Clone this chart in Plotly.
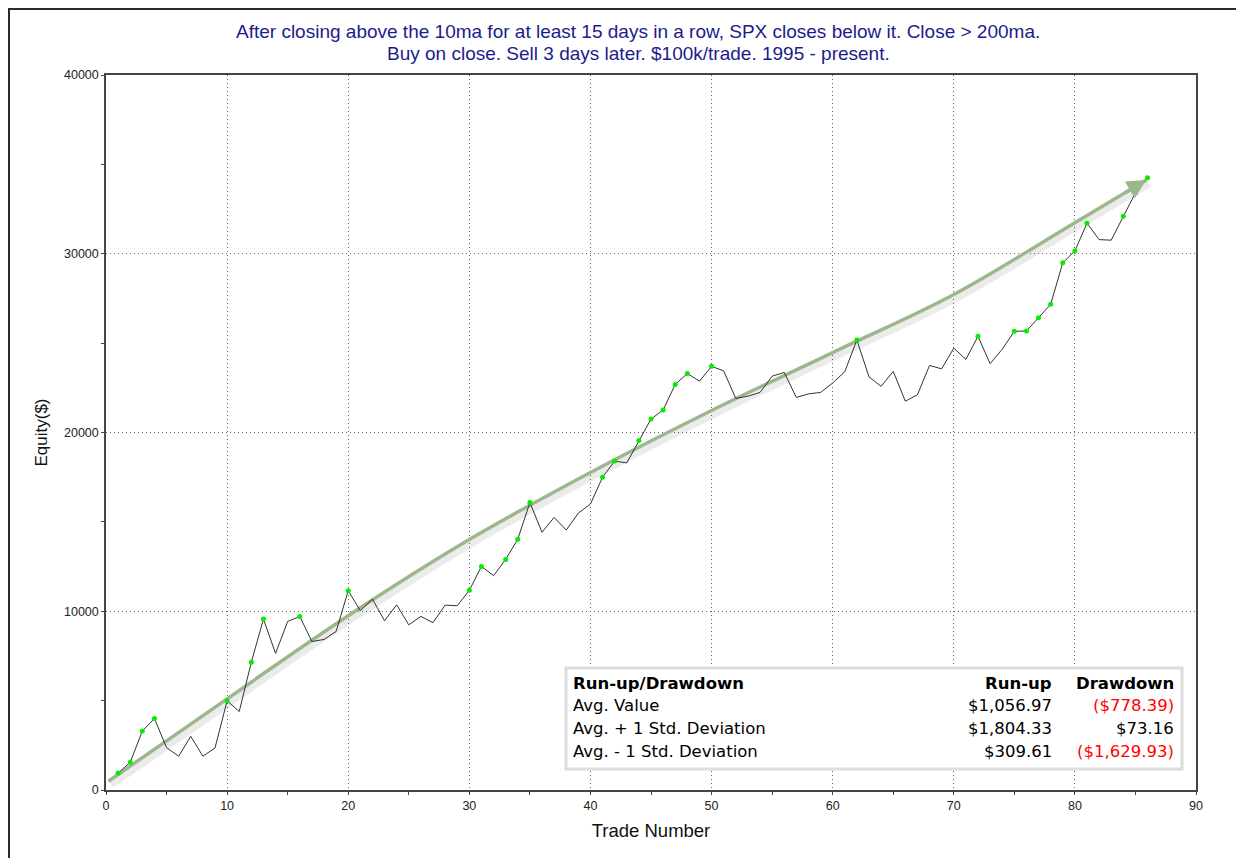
import plotly.graph_objects as go

# ---------------- data ----------------
trade_numbers = list(range(1, 87))
equity = [950, 1550, 3300, 4000, 2370, 1890, 3000, 1890, 2350, 4990,
          4390, 7150, 9560, 7640, 9430, 9710, 8310, 8420, 8870, 11150,
          10030, 10680, 9470, 10360, 9240, 9710, 9360, 10340, 10310, 11170,
          12510, 11990, 12900, 14030, 16080, 14420, 15250, 14540, 15490, 16000,
          17500, 18400, 18300, 19550, 20750, 21260, 22690, 23300, 22870, 23700,
          23450, 21910, 22030, 22240, 23150, 23360, 21960, 22160, 22240, 22770,
          23400, 25170, 23110, 22580, 23420, 21750, 22110, 23750, 23560, 24720,
          24090, 25380, 23850, 24660, 25660, 25680, 26420, 27170, 29490, 30160,
          31710, 30790, 30760, 32100, 33410, 34250]
new_high_trades = [1, 2, 3, 4, 10, 12, 13, 16, 20, 30, 31, 33, 34, 35, 41, 42, 44,
                   45, 46, 47, 48, 50, 62, 72, 75, 76, 77, 78, 79, 80, 81, 84, 85, 86]

trend_x = [0.2, 10, 20, 30, 40, 50, 60, 70, 80, 85.9]
trend_y = [490, 5100, 9750, 14010, 17760, 21230, 24470, 27720, 31740, 34120]

x_ticks = [0, 10, 20, 30, 40, 50, 60, 70, 80, 90]
y_ticks = [0, 10000, 20000, 30000, 40000]

title_lines = ["After closing above the 10ma for at least 15 days in a row, SPX closes below it. Close > 200ma.",
               "Buy on close. Sell 3 days later. $100k/trade. 1995 - present."]

table_header = ["Run-up/Drawdown", "Run-up", "Drawdown"]
table_rows = ["Avg. Value", "Avg. + 1 Std. Deviation", "Avg. - 1 Std. Deviation"]
runup_vals = ["$1,056.97", "$1,804.33", "$309.61"]
drawdown_vals = ["($778.39)", "$73.16", "($1,629.93)"]

# ---------------- layout helpers (page pixels; page body has an 8px margin) ----------------
OFF = 8
W, H = 1244 - OFF, 858 - OFF
PL, PR, PT, PB = 106, 1196, 75, 790   # plot area in page pixels


def px(xp):
    return (xp - PL) / (PR - PL)


def py(yp):
    return (PB - yp) / (PB - PT)


TREND_COLOR = "#9db78d"

fig = go.Figure()

# shadow of the trend arrow
fig.add_trace(go.Scatter(
    x=[v + 0.25 for v in trend_x], y=[v - 200 for v in trend_y],
    mode="lines", line=dict(color="rgba(0,0,0,0.08)", width=7, shape="spline"),
    hoverinfo="skip", showlegend=False))
fig.add_trace(go.Scatter(
    x=trend_x, y=trend_y, mode="lines",
    line=dict(color=TREND_COLOR, width=3.5, shape="spline"),
    hoverinfo="skip", showlegend=False))

# equity curve
fig.add_trace(go.Scatter(
    x=trade_numbers, y=equity, mode="lines",
    line=dict(color="#333333", width=1), showlegend=False))
fig.add_trace(go.Scatter(
    x=new_high_trades, y=[equity[t - 1] for t in new_high_trades], mode="markers",
    marker=dict(color="#00ee00", size=5, line=dict(width=0)), showlegend=False))

# arrow head
fig.add_annotation(x=trend_x[-1], y=trend_y[-1], ax=-22, ay=13, xref="x", yref="y",
                   showarrow=True, arrowhead=2, arrowsize=1.1, arrowwidth=3.5,
                   arrowcolor=TREND_COLOR, text="", standoff=0)

# ---------------- title ----------------
for yline, txt in zip([31, 53], title_lines):
    fig.add_annotation(x=px(638), y=py(yline), xref="paper", yref="paper", text=txt,
                       showarrow=False, xanchor="center", yanchor="middle",
                       font=dict(family="Liberation Sans, Arial", size=19, color="#1c1c8c"))

# ---------------- table ----------------
box_l, box_r, box_t, box_b = 566, 1182, 668, 769
fig.add_shape(type="rect", xref="paper", yref="paper",
              x0=px(box_l), x1=px(box_r), y0=py(box_b), y1=py(box_t),
              fillcolor="white", line=dict(color="#dcdcdc", width=3), layer="above")
row_y = [683, 705, 728, 751]
col_left, col_run, col_dd = 571, 1054, 1176
TFONT = "DejaVu Sans"
TSIZE = 16.5


def tnote(xp, yp, text, anchor, color="black"):
    fig.add_annotation(x=px(xp), y=py(yp), xref="paper", yref="paper", text=text,
                       showarrow=False, xanchor=anchor, yanchor="middle",
                       font=dict(family=TFONT, size=TSIZE, color=color))


tnote(col_left, row_y[0], "<b>" + table_header[0] + "</b>", "left")
tnote(col_run, row_y[0], "<b>" + table_header[1] + "</b>", "right")
tnote(col_dd, row_y[0], "<b>" + table_header[2] + "</b>", "right")
for i, label in enumerate(table_rows):
    tnote(col_left, row_y[i + 1], label, "left")
    tnote(col_run, row_y[i + 1], runup_vals[i], "right")
    dd = drawdown_vals[i]
    tnote(col_dd, row_y[i + 1], dd, "right", "#ff0000" if dd.startswith("(") else "black")

# ---------------- outer frame ----------------
fig.add_shape(type="line", xref="paper", yref="paper",
              x0=px(OFF + 0.5), x1=px(OFF + 0.5), y0=py(870), y1=py(OFF + 0.5),
              line=dict(color="#2a2a2a", width=3))
fig.add_shape(type="line", xref="paper", yref="paper",
              x0=px(OFF), x1=px(1260), y0=py(OFF + 0.5), y1=py(OFF + 0.5),
              line=dict(color="#2a2a2a", width=3))

fig.update_layout(
    width=W, height=H,
    margin=dict(l=PL - OFF, r=W - (PR - OFF), t=PT - OFF, b=H - (PB - OFF)),
    paper_bgcolor="white", plot_bgcolor="white",
    font=dict(family="Liberation Sans, Arial", color="#222222"),
    showlegend=False,
)
fig.update_xaxes(range=[0, 90], tickvals=x_ticks, ticktext=[str(v) for v in x_ticks],
                 showgrid=True, gridcolor="#666666", griddash="1px,3px", gridwidth=1,
                 showline=True, linecolor="#444444", linewidth=1.5, mirror=True,
                 ticks="outside", ticklen=3, tickcolor="#444444",
                 minor=dict(dtick=5, ticks="outside", ticklen=3, tickcolor="#444444", showgrid=False),
                 tickfont=dict(size=12.5, color="#222222"), zeroline=False,
                 title=dict(text="Trade Number", font=dict(size=18.5, color="#111111"), standoff=12))
fig.update_yaxes(range=[0, 40000], tickvals=y_ticks, ticktext=[str(v) for v in y_ticks],
                 showgrid=True, gridcolor="#666666", griddash="1px,3px", gridwidth=1,
                 showline=True, linecolor="#444444", linewidth=1.5, mirror=True,
                 ticks="outside", ticklen=3, tickcolor="#444444",
                 minor=dict(dtick=5000, ticks="outside", ticklen=3, tickcolor="#444444", showgrid=False),
                 tickfont=dict(size=12.5, color="#222222"), zeroline=False,
                 title=dict(text="Equity($)", font=dict(size=17, color="#111111"), standoff=12))

fig.write_html("out.html")
